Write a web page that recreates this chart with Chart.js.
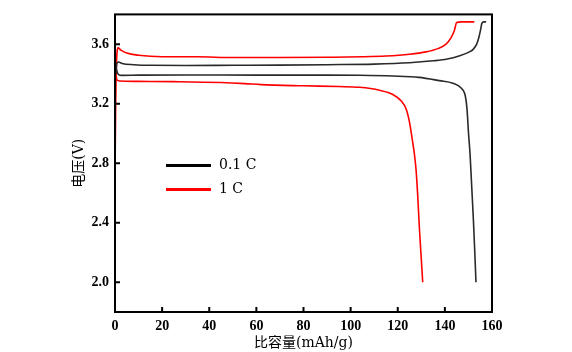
<!DOCTYPE html>
<html lang="zh">

<head>
    <meta charset="UTF-8">
    <title>比容量-电压</title>
    <script src="https://cdn.jsdelivr.net/npm/chart.js"></script>
    <style>
        body {
            margin: 0;
            padding: 0;
            background-color: #ffffff;
        }
    </style>
</head>

<body>
    <canvas id="capacityChart" width="572" height="352"></canvas>
    <script>
        // tick labels
        const xTicks = [0, 20, 40, 60, 80, 100, 120, 140, 160];
        const yTicks = [2.0, 2.4, 2.8, 3.2, 3.6];

        // 0.1 C charge / discharge (mAh/g, V)
        const capCharge01 = [0.3, 0.8, 1.5, 3, 8, 15, 30, 50, 70, 90, 110, 125, 135, 141, 146, 150, 152, 153.5, 154.5, 155.2, 155.7, 156.5, 157.5];
        const voltCharge01 = [3.40, 3.47, 3.48, 3.47, 3.462, 3.458, 3.457, 3.458, 3.459, 3.462, 3.466, 3.475, 3.488, 3.50, 3.52, 3.545, 3.565, 3.60, 3.65, 3.70, 3.74, 3.75, 3.75];
        const capDischarge01 = [0.3, 0.8, 1.5, 3, 10, 30, 60, 90, 104, 118, 129, 137.7, 143.4, 146.9, 148.7, 149.4, 150, 150.7, 151.4, 152.1, 152.7, 153.2];
        const voltDischarge01 = [3.46, 3.42, 3.395, 3.39, 3.392, 3.393, 3.392, 3.392, 3.391, 3.386, 3.377, 3.355, 3.338, 3.305, 3.25, 3.163, 3.01, 2.857, 2.64, 2.42, 2.2, 2.0];

        // 1 C charge / discharge
        const capCharge1 = [0, 0.3, 0.7, 1.3, 2.5, 5, 10, 20, 35, 50, 70, 90, 105, 115, 125, 132, 137, 140.5, 142.5, 144, 145, 147, 152.5];
        const voltCharge1 = [2.73, 3.2, 3.5, 3.575, 3.56, 3.54, 3.525, 3.515, 3.515, 3.51, 3.51, 3.512, 3.515, 3.52, 3.532, 3.548, 3.57, 3.60, 3.64, 3.69, 3.745, 3.75, 3.75];
        const capDischarge1 = [0.3, 0.8, 2, 10, 25, 45, 55, 62, 80, 95, 103.8, 112.3, 117.9, 121.5, 123.6, 125, 126.1, 127.1, 127.8, 128.5, 129.2, 129.9, 130.6];
        const voltDischarge1 = [3.42, 3.36, 3.352, 3.35, 3.348, 3.342, 3.335, 3.328, 3.32, 3.315, 3.31, 3.29, 3.262, 3.218, 3.163, 3.075, 2.966, 2.857, 2.75, 2.575, 2.36, 2.18, 2.0];

        const legendNames = ['0.1 C', '1 C'];
        const legendColors = ['#000000', '#ff0000'];

        function toPoints(xs, ys) {
            return xs.map((x, i) => ({ x: x, y: ys[i] }));
        }

        const tickFont = { family: '"Liberation Serif", serif', size: 14, weight: 'bold' };
        const titleFont = { family: '"DejaVu Serif", "Noto Sans CJK SC", serif', size: 14 };

        // frame around the plot + inward tick marks + legend inside the plot
        const framePlugin = {
            id: 'frame',
            afterDraw(chart) {
                const ctx = chart.ctx;
                const a = chart.chartArea;
                ctx.save();
                ctx.strokeStyle = '#000';
                ctx.lineWidth = 2;
                ctx.strokeRect(a.left, a.top, a.right - a.left, a.bottom - a.top);
                const xs = chart.scales.x, ys = chart.scales.y;
                ctx.beginPath();
                xs.ticks.forEach(t => {
                    const px = xs.getPixelForValue(t.value);
                    ctx.moveTo(px, a.bottom);
                    ctx.lineTo(px, a.bottom - 5);
                });
                ys.ticks.forEach(t => {
                    const py = ys.getPixelForValue(t.value);
                    ctx.moveTo(a.left, py);
                    ctx.lineTo(a.left + 5, py);
                });
                ctx.stroke();

                // legend
                ctx.font = '14px "DejaVu Serif", serif';
                ctx.textBaseline = 'middle';
                ctx.fillStyle = '#000';
                legendNames.forEach((name, i) => {
                    const y = a.top + 151 + i * 24;
                    ctx.strokeStyle = legendColors[i];
                    ctx.lineWidth = 3;
                    ctx.beginPath();
                    ctx.moveTo(a.left + 51, y);
                    ctx.lineTo(a.left + 96, y);
                    ctx.stroke();
                    ctx.fillText(name, a.left + 104, y);
                });
                ctx.restore();
            }
        };

        const ctx = document.getElementById('capacityChart').getContext('2d');
        new Chart(ctx, {
            type: 'scatter',
            data: {
                datasets: [
                    { label: '0.1 C', data: toPoints(capCharge01, voltCharge01), borderColor: '#2a2a2a' },
                    { label: '0.1 C', data: toPoints(capDischarge01, voltDischarge01), borderColor: '#2a2a2a' },
                    { label: '1 C', data: toPoints(capCharge1, voltCharge1), borderColor: '#ff0000' },
                    { label: '1 C', data: toPoints(capDischarge1, voltDischarge1), borderColor: '#ff0000' }
                ].map(d => Object.assign(d, {
                    showLine: true,
                    pointRadius: 0,
                    borderWidth: 1.6,
                    cubicInterpolationMode: 'monotone',
                    fill: false
                }))
            },
            options: {
                responsive: false,
                devicePixelRatio: 1,
                animation: false,
                layout: {
                    padding: { left: 71, right: 80, top: 7, bottom: 0 }
                },
                plugins: {
                    legend: { display: false },
                    tooltip: { enabled: false }
                },
                scales: {
                    x: {
                        type: 'linear',
                        min: 0,
                        max: 160,
                        afterBuildTicks: scale => { scale.ticks = xTicks.map(v => ({ value: v })); },
                        afterFit: scale => { scale.height = 40; },
                        grid: { display: false, drawTicks: false },
                        border: { display: false },
                        ticks: {
                            color: '#000',
                            font: tickFont,
                            padding: 6,
                            maxRotation: 0,
                            callback: v => String(v)
                        },
                        title: {
                            display: true,
                            text: '比容量(mAh/g)',
                            color: '#000',
                            font: titleFont,
                            padding: { top: 0, bottom: 0 }
                        }
                    },
                    y: {
                        type: 'linear',
                        min: 1.8,
                        max: 3.8,
                        afterBuildTicks: scale => { scale.ticks = yTicks.map(v => ({ value: v })); },
                        afterFit: scale => { scale.width = 44; },
                        grid: { display: false, drawTicks: false },
                        border: { display: false },
                        ticks: {
                            color: '#000',
                            font: tickFont,
                            padding: 6,
                            callback: v => v.toFixed(1)
                        },
                        title: {
                            display: true,
                            text: '电压(V)',
                            color: '#000',
                            font: titleFont,
                            padding: { top: 0, bottom: 0 }
                        }
                    }
                }
            },
            plugins: [framePlugin]
        });
    </script>
</body>

</html>
